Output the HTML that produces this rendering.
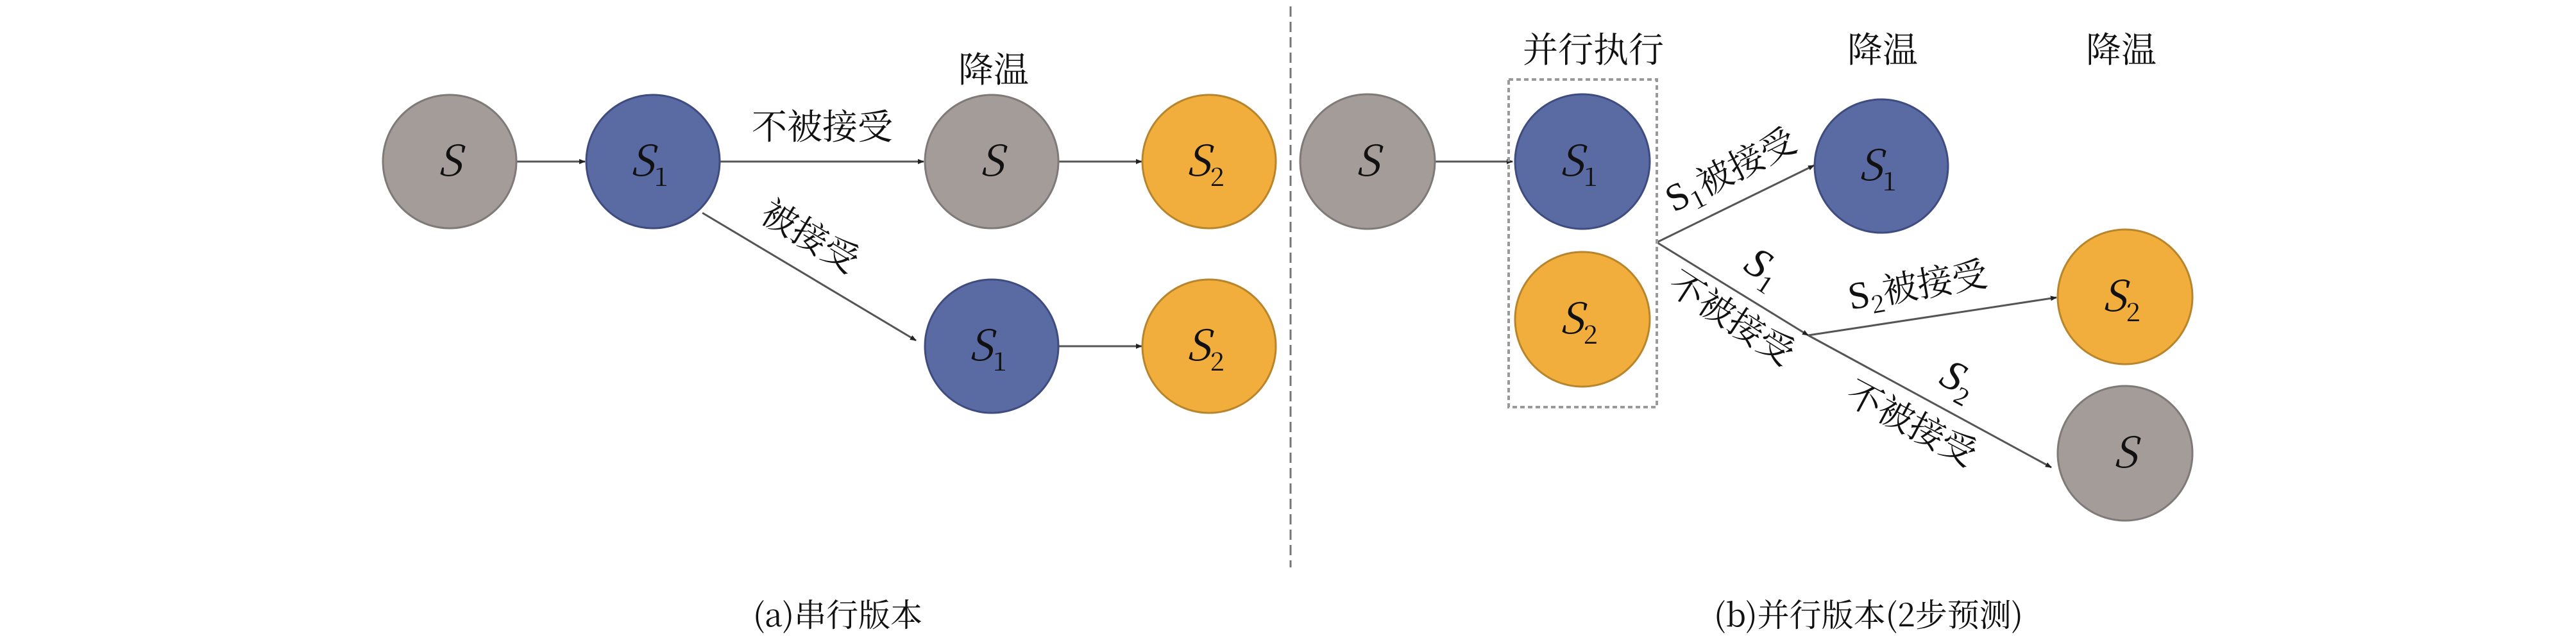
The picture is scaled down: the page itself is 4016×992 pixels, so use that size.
<!DOCTYPE html>
<html><head><meta charset="utf-8"><style>
html,body{margin:0;padding:0;background:#fff;}
svg{display:block;}
text{font-family:"Noto Serif CJK SC","Liberation Serif",serif;fill:#111;}
.cj{font-size:55px;}
.sv{font-style:italic;font-size:66px;font-family:"Liberation Serif","Noto Serif CJK SC",serif;}
.sub{font-size:40px;font-style:normal;}
</style></head><body>
<svg width="4016" height="992" viewBox="0 0 4016 992" xmlns="http://www.w3.org/2000/svg">
<defs>
<marker id="ah" markerWidth="10" markerHeight="10" refX="9" refY="5" orient="auto" markerUnits="userSpaceOnUse">
<path d="M0,1 L10,5 L0,9 z" fill="#222"/></marker>
</defs>
<line x1="2012" y1="10" x2="2012" y2="885" stroke="#777" stroke-width="3" stroke-dasharray="16,8"/>

<g stroke="#555" stroke-width="3" fill="none" marker-end="url(#ah)">
<line x1="806" y1="252" x2="912" y2="252"/>
<line x1="1122" y1="252" x2="1440" y2="252"/>
<line x1="1650" y1="252" x2="1780" y2="252"/>
<line x1="1095" y1="332" x2="1428" y2="531"/>
<line x1="1650" y1="540" x2="1780" y2="540"/>
<line x1="2237" y1="252" x2="2358" y2="252"/>
<line x1="2583" y1="378" x2="2828" y2="258"/>
<line x1="2583" y1="378" x2="2819" y2="523"/>
<line x1="2819" y1="523" x2="3206" y2="464"/>
<line x1="2819" y1="523" x2="3198" y2="729"/>
</g>

<rect x="2352" y="124" width="231" height="511" fill="none" stroke="#999" stroke-width="4" stroke-dasharray="7,5"/>

<g stroke-width="3">
<circle cx="701" cy="252" r="104" fill="#a39c99" stroke="#7f7a78"/>
<circle cx="1018" cy="252" r="104" fill="#5a6aa2" stroke="#3f4c80"/>
<circle cx="1546" cy="252" r="104" fill="#a39c99" stroke="#7f7a78"/>
<circle cx="1885" cy="252" r="104" fill="#f1ae3c" stroke="#b9852c"/>
<circle cx="1546" cy="540" r="104" fill="#5a6aa2" stroke="#3f4c80"/>
<circle cx="1885" cy="540" r="104" fill="#f1ae3c" stroke="#b9852c"/>
<circle cx="2132" cy="252" r="105" fill="#a39c99" stroke="#7f7a78"/>
<circle cx="2467" cy="252" r="105" fill="#5a6aa2" stroke="#3f4c80"/>
<circle cx="2467" cy="498" r="105" fill="#f1ae3c" stroke="#b9852c"/>
<circle cx="2933" cy="259" r="104" fill="#5a6aa2" stroke="#3f4c80"/>
<circle cx="3313" cy="463" r="105" fill="#f1ae3c" stroke="#b9852c"/>
<circle cx="3313" cy="707" r="105" fill="#a39c99" stroke="#7f7a78"/>
</g>

<g class="sv" text-anchor="middle">
<text x="701" y="274">S</text>
<text x="1012" y="274">S<tspan class="sub" dy="16">1</tspan></text>
<text x="1546" y="274">S</text>
<text x="1879" y="274">S<tspan class="sub" dy="16">2</tspan></text>
<text x="1540" y="562">S<tspan class="sub" dy="16">1</tspan></text>
<text x="1879" y="562">S<tspan class="sub" dy="16">2</tspan></text>
<text x="2132" y="274">S</text>
<text x="2461" y="274">S<tspan class="sub" dy="16">1</tspan></text>
<text x="2461" y="520">S<tspan class="sub" dy="16">2</tspan></text>
<text x="2927" y="281">S<tspan class="sub" dy="16">1</tspan></text>
<text x="3307" y="485">S<tspan class="sub" dy="16">2</tspan></text>
<text x="3313" y="729">S</text>
</g>

<g class="cj" text-anchor="middle">
<text x="1549" y="128">降温</text>
<text x="1282" y="217">不被接受</text>
<text transform="translate(1253,385) rotate(31)">被接受</text>
<text x="2484" y="97">并行执行</text>
<text x="2935" y="97">降温</text>
<text x="3307" y="97">降温</text>
<text transform="translate(2707,282) rotate(-27)"><tspan font-size="60" font-family="Liberation Serif">S</tspan><tspan font-size="38" dy="12">1</tspan><tspan dy="-12">被接受</tspan></text>
<text transform="translate(2738,434) rotate(33)" class="sv">S<tspan class="sub" dy="14">1</tspan></text>
<text transform="translate(2689,512) rotate(33)">不被接受</text>
<text transform="translate(2993,464) rotate(-10)"><tspan font-size="60" font-family="Liberation Serif">S</tspan><tspan font-size="38" dy="12">2</tspan><tspan dy="-12">被接受</tspan></text>
<text transform="translate(3044,610) rotate(28)" class="sv">S<tspan class="sub" dy="14">2</tspan></text>
<text transform="translate(2971,677) rotate(28)">不被接受</text>
<text x="1306" y="977" font-size="50">(a)串行版本</text>
<text x="2913" y="977" font-size="50">(b)并行版本(2步预测)</text>
</g>
</svg>
</body></html>
